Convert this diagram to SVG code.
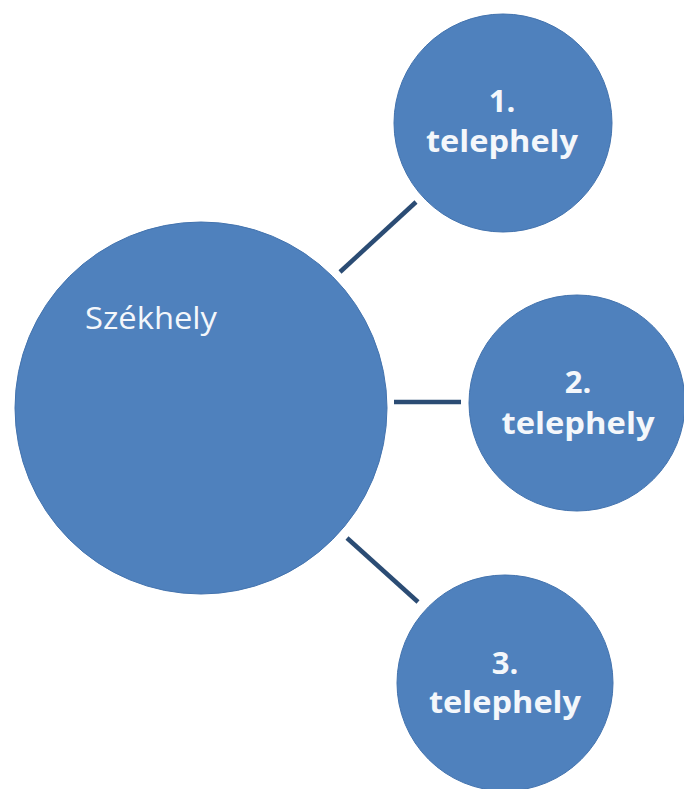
<svg xmlns="http://www.w3.org/2000/svg" width="684" height="789" viewBox="0 0 684 789">
<style>
.node{fill:#4f81bd;stroke:#4373ae;stroke-width:1}
.lbl{fill:#f4f7fb;font-family:"Open Sans","Liberation Sans",sans-serif;font-size:31px}
.num{font-weight:bold;text-anchor:middle}
.conn{stroke:#2b4c74;stroke-width:4.5;stroke-linecap:butt}
</style>
<rect width="684" height="789" fill="#ffffff"/>
<g id="connectors">
<line class="conn" x1="340" y1="272" x2="416" y2="202"/>
<line class="conn" x1="394" y1="402" x2="461" y2="402"/>
<line class="conn" x1="347" y1="538" x2="418" y2="602"/>
</g>
<g id="szekhely">
<circle class="node" cx="201" cy="408" r="186"/>
<text class="lbl" x="85" y="329" textLength="132" lengthAdjust="spacingAndGlyphs">Székhely</text>
</g>
<g id="telephely1">
<circle class="node" cx="503" cy="123" r="109"/>
<text class="lbl num" x="502" y="112">1.</text>
<text class="lbl num" x="502" y="152" textLength="152" lengthAdjust="spacingAndGlyphs">telephely</text>
</g>
<g id="telephely2">
<circle class="node" cx="577" cy="403" r="108"/>
<text class="lbl num" x="578" y="393">2.</text>
<text class="lbl num" x="578" y="434" textLength="153" lengthAdjust="spacingAndGlyphs">telephely</text>
</g>
<g id="telephely3">
<circle class="node" cx="505" cy="683" r="108"/>
<text class="lbl num" x="505" y="674">3.</text>
<text class="lbl num" x="505" y="713" textLength="152" lengthAdjust="spacingAndGlyphs">telephely</text>
</g>
</svg>
